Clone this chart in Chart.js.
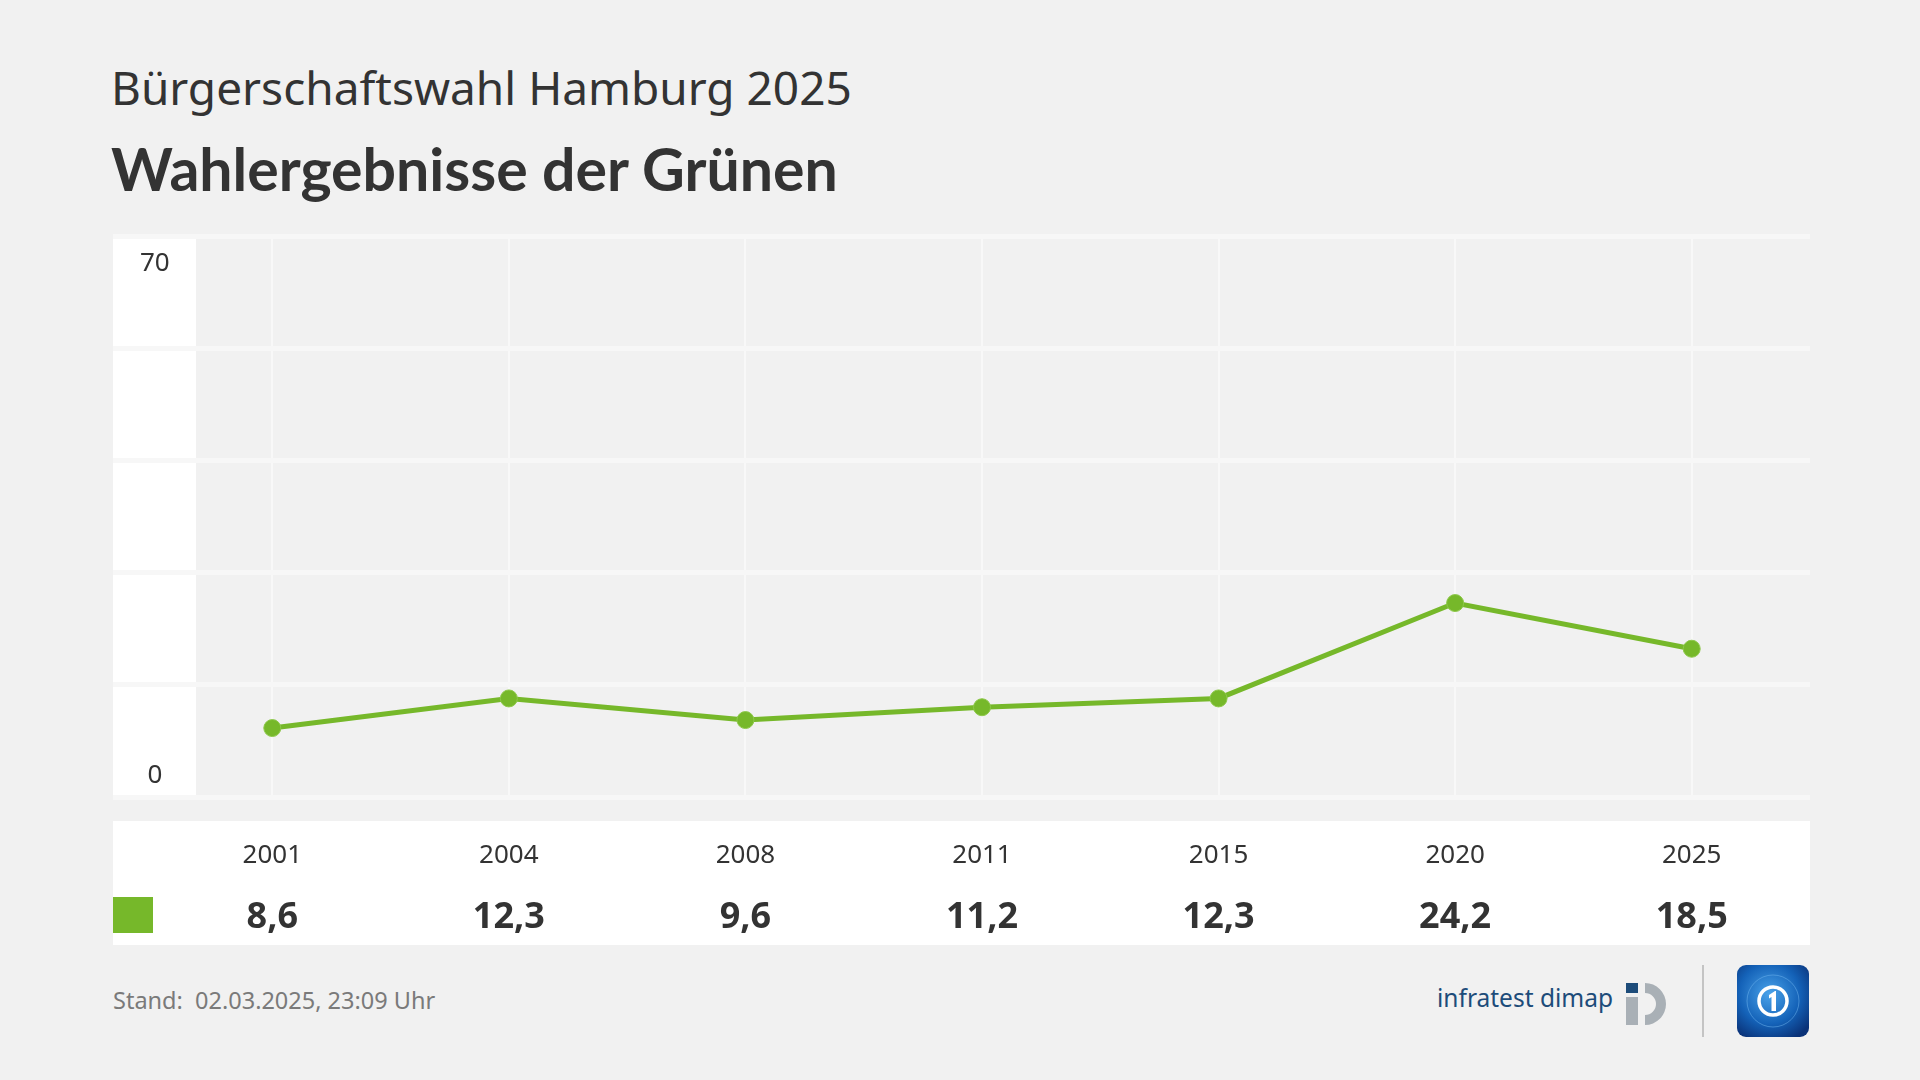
<!DOCTYPE html>
<html lang="de">
<head>
<meta charset="utf-8">
<title>Wahlergebnisse der Grünen</title>
<script src="https://cdn.jsdelivr.net/npm/chart.js@4.4.1/dist/chart.umd.min.js"></script>
<style>
  html, body { margin: 0; padding: 0; }
  body {
    width: 1920px; height: 1080px; position: relative; overflow: hidden;
    background: #f1f1f1; color: #333; font-family: "Noto Sans", sans-serif;
  }
  .sub { position: absolute; left: 111px; top: 64px; font-size: 46px; line-height: 1; white-space: nowrap; }
  .titel { position: absolute; left: 111px; top: 139px; font-family: Lato, sans-serif; font-size: 59px; font-weight: 700; line-height: 1; white-space: nowrap; }
  #wrap { position: absolute; left: 113px; top: 226px; width: 1697px; height: 719px; }
  .stand { position: absolute; left: 113px; top: 989px; font-size: 23.5px; line-height: 1; color: #7a7a7a; white-space: pre; }
  .infra { position: absolute; left: 1437px; top: 986px; font-size: 24.5px; line-height: 1; color: #1d4c7a; white-space: nowrap; }
  .infra-logo { position: absolute; left: 1626px; top: 981px; }
  .trenner { position: absolute; left: 1702px; top: 965px; width: 2px; height: 72px; background: #c4c4c4; }
  .ts-logo { position: absolute; left: 1737px; top: 965px; }
</style>
</head>
<body>
<div class="sub">Bürgerschaftswahl Hamburg 2025</div>
<div class="titel">Wahlergebnisse der Grünen</div>
<div id="wrap"><canvas id="chart"></canvas></div>
<div class="stand">Stand:  02.03.2025, 23:09 Uhr</div>
<div class="infra">infratest dimap</div>
<svg class="infra-logo" width="48" height="48" viewBox="0 0 48 48">
  <rect x="0" y="2" width="12" height="10" fill="#1d4c7a"/>
  <rect x="0" y="16" width="12" height="28" fill="#a9b0b6"/>
  <path d="M19 2 A21 21 0 1 1 19 44 L19 34 A11 11 0 1 0 19 12 Z" fill="#a9b0b6"/>
</svg>
<div class="trenner"></div>
<svg class="ts-logo" width="72" height="72" viewBox="0 0 72 72">
  <defs>
    <radialGradient id="g" cx="45%" cy="40%" r="70%">
      <stop offset="0" stop-color="#4aa3ea"/>
      <stop offset="0.6" stop-color="#1462b8"/>
      <stop offset="1" stop-color="#0a3278"/>
    </radialGradient>
  </defs>
  <rect x="0" y="0" width="72" height="72" rx="9" fill="url(#g)"/>
  <circle cx="36" cy="36" r="26" fill="none" stroke="#6fb6f0" stroke-width="1" opacity="0.5"/>
  <circle cx="36" cy="36" r="14" fill="none" stroke="#ffffff" stroke-width="3.5"/>
  <path d="M32 30 L38 26 L39 26 L39 46 L34.5 46 L34.5 32 L32 33.5 Z" fill="#ffffff"/>
</svg>

<script>
const jahre = ['2001', '2004', '2008', '2011', '2015', '2020', '2025'];
const gruene = [8.6, 12.3, 9.6, 11.2, 12.3, 24.2, 18.5];
const yMax = 70;
const yStep = 14;
const farbe = '#76b82a';
const schrift = '"Noto Sans", sans-serif';

// Werte für die Tabellenzeile, mit Komma
const werteText = gruene.map(v => v.toFixed(1).replace('.', ','));

// weiße Flächen hinter y-Beschriftung und Tabelle
const hintergrund = {
  id: 'hintergrund',
  beforeDraw(chart) {
    const { ctx, chartArea, scales } = chart;
    const links = scales.y.left;
    ctx.save();
    ctx.fillStyle = '#ffffff';
    ctx.fillRect(links, chartArea.top, (chartArea.left - links) * 2 + 1, chartArea.bottom - chartArea.top);
    const oben = chartArea.bottom + 24;
    ctx.fillRect(links, oben, chartArea.right - links, chart.height - oben);
    ctx.fillStyle = farbe;
    const mitte = scales.x2.top + 30;
    ctx.fillRect(links, mitte - 18, 40, 36);
    ctx.restore();
  }
};

function ohnePadding(s) {
  s.paddingLeft = 0;
  s.paddingRight = 0;
  s.paddingTop = 0;
  s.paddingBottom = 0;
}

new Chart(document.getElementById('chart'), {
  type: 'line',
  data: {
    labels: jahre,
    datasets: [{
      label: 'Grüne',
      data: gruene,
      borderColor: farbe,
      backgroundColor: farbe,
      borderWidth: 5,
      pointRadius: 8.5,
      pointBackgroundColor: farbe,
      pointBorderColor: '#8dc84a',
      pointBorderWidth: 1,
      tension: 0,
      clip: false
    }]
  },
  options: {
    responsive: true,
    maintainAspectRatio: false,
    animation: false,
    layout: { autoPadding: false, padding: { top: 10, left: 0, right: 0, bottom: 0 } },
    plugins: {
      legend: { display: false },
      tooltip: { enabled: false }
    },
    scales: {
      x: {
        type: 'category',
        position: 'bottom',
        offset: true,
        weight: 0,
        grid: { color: '#f8f8f8', lineWidth: 2, drawTicks: false, offset: false },
        border: { display: false },
        ticks: { color: '#333', font: { family: schrift, size: 26 }, padding: 43, maxRotation: 0, autoSkip: false },
        afterFit(s) { s.height = 88; ohnePadding(s); }
      },
      x2: {
        type: 'category',
        labels: werteText,
        position: 'bottom',
        offset: true,
        weight: 1,
        grid: { display: false, drawTicks: false },
        border: { display: false },
        ticks: { color: '#333', font: { family: schrift, size: 36, weight: 'bold' }, padding: 11, maxRotation: 0, autoSkip: false },
        afterFit(s) { s.height = 60; ohnePadding(s); }
      },
      y: {
        min: 0,
        max: yMax,
        grid: { color: '#f7f7f7', lineWidth: 5, drawTicks: true, tickLength: 41 },
        border: { display: false },
        ticks: {
          stepSize: yStep,
          autoSkip: false,
          mirror: true,
          crossAlign: 'center',
          padding: -14,
          color: '#333',
          font: { family: schrift, size: 26, lineHeight: '14px' },
          callback(v) {
            if (v === yMax) return ['', '', '', '', String(v)];
            if (v === 0) return [String(v), '', '', ''];
            return '';
          }
        },
        afterFit(s) { s.width = 41; ohnePadding(s); }
      }
    }
  },
  plugins: [hintergrund]
});
</script>
</body>
</html>
